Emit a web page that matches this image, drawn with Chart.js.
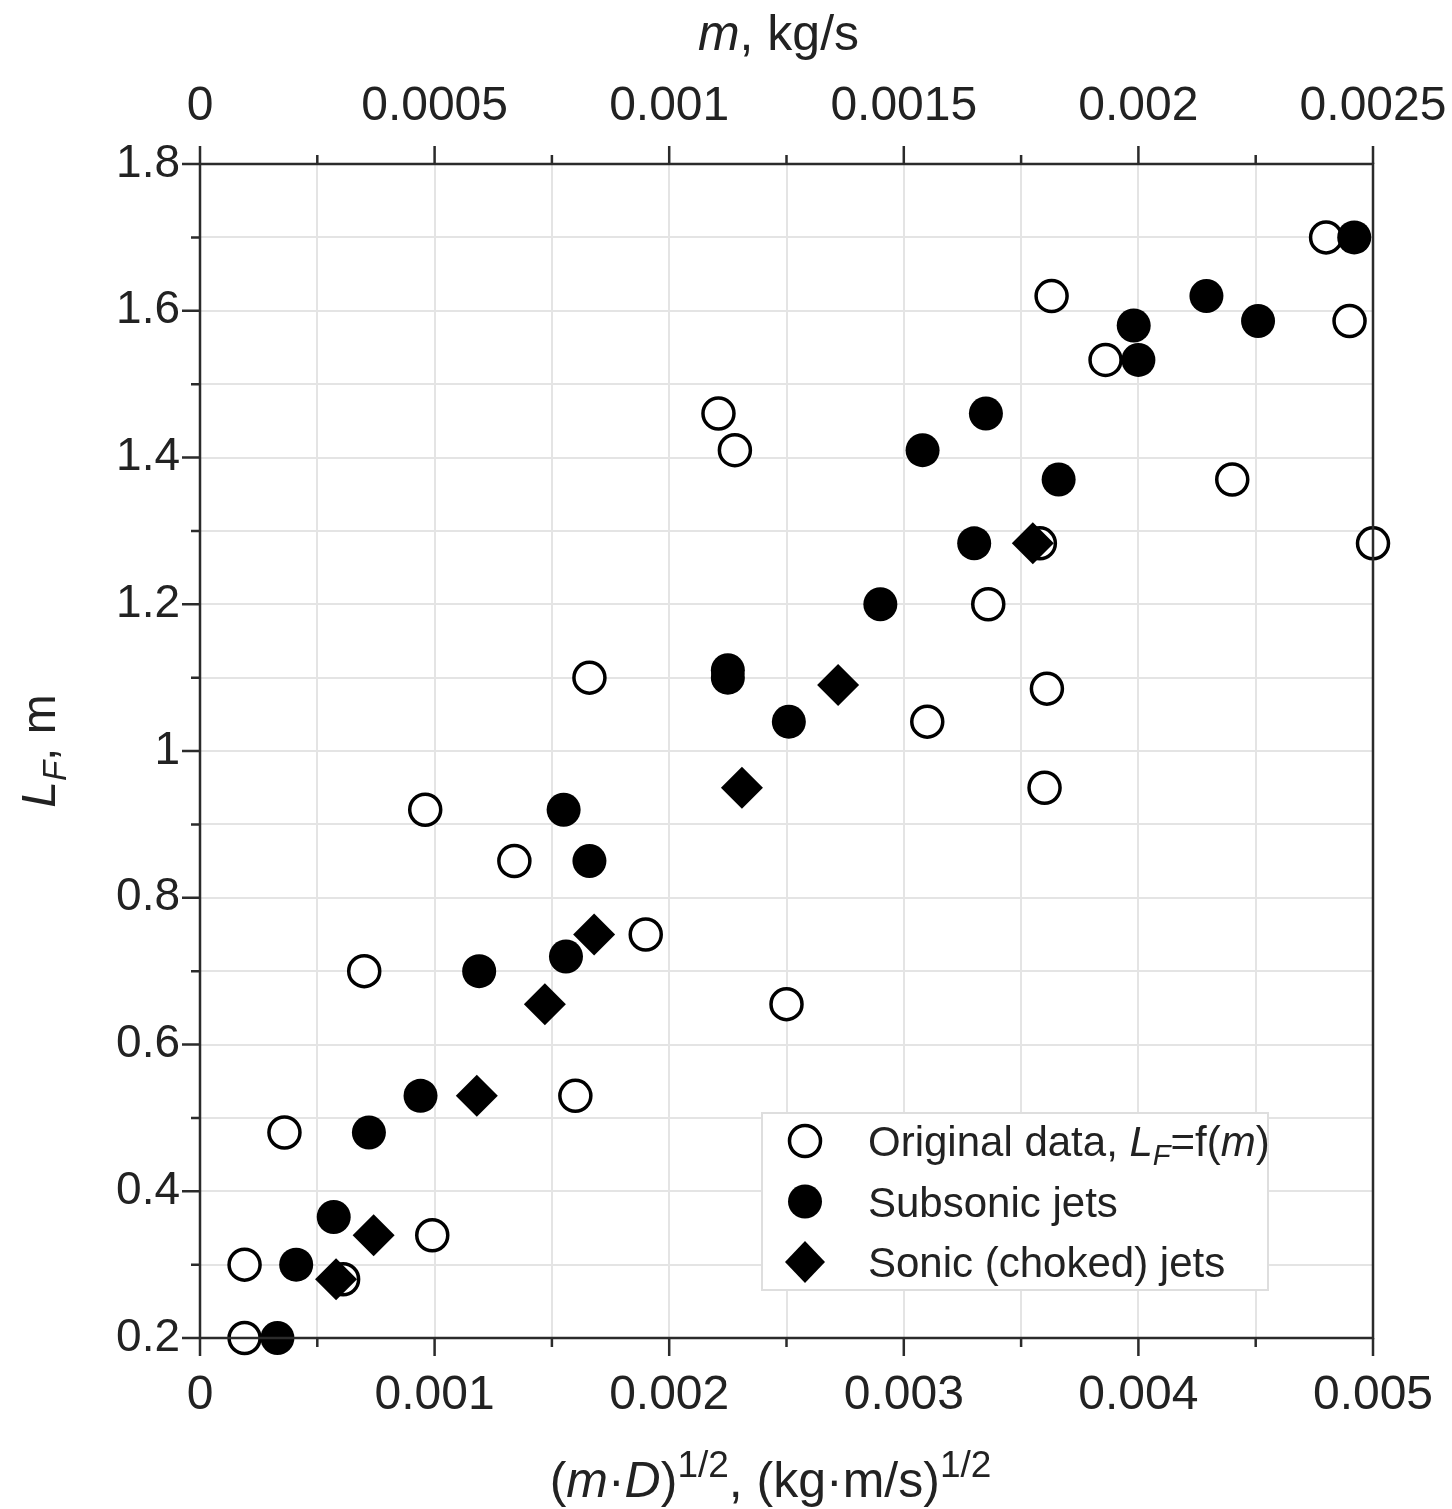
<!DOCTYPE html>
<html>
<head>
<meta charset="utf-8">
<script src="https://cdn.jsdelivr.net/npm/chart.js@4.4.0/dist/chart.umd.min.js"></script>
<style>
    html, body { margin: 0; padding: 0; background: #fff; }
</style>
</head>
<body>
<canvas id="flameChart" width="1452" height="1509"></canvas>
<script>
const FONT = '"Liberation Sans", Arial, Helvetica, sans-serif';

// Ticks: bottom axis (m·D)^1/2, top axis m, left axis L_F
const xTickVals = [0, 0.0005, 0.001, 0.0015, 0.002, 0.0025, 0.003, 0.0035, 0.004, 0.0045, 0.005];
const xTickLabels = ['0', '', '0.001', '', '0.002', '', '0.003', '', '0.004', '', '0.005'];
const mTickVals = [0, 0.00025, 0.0005, 0.00075, 0.001, 0.00125, 0.0015, 0.00175, 0.002, 0.00225, 0.0025];
const mTickLabels = ['0', '', '0.0005', '', '0.001', '', '0.0015', '', '0.002', '', '0.0025'];
const yTickVals = [0.2, 0.3, 0.4, 0.5, 0.6, 0.7, 0.8, 0.9, 1.0, 1.1, 1.2, 1.3, 1.4, 1.5, 1.6, 1.7, 1.8];
const yTickLabels = ['0.2', '', '0.4', '', '0.6', '', '0.8', '', '1', '', '1.2', '', '1.4', '', '1.6', '', '1.8'];

// Original data, L_F = f(m)
const origX = [0.00019, 0.00019, 0.00036, 0.00061, 0.00099, 0.0007, 0.00096, 0.00134, 0.0016, 0.00166,
               0.0019, 0.00221, 0.00228, 0.0025, 0.0031, 0.00336, 0.00358, 0.00361, 0.0036, 0.00363,
               0.00386, 0.0044, 0.0048, 0.0049, 0.005];
const origY = [0.2, 0.3, 0.48, 0.28, 0.34, 0.7, 0.92, 0.85, 0.53, 1.1,
               0.75, 1.46, 1.41, 0.655, 1.04, 1.2, 1.283, 1.085, 0.95, 1.62,
               1.533, 1.37, 1.70, 1.586, 1.283];

// Subsonic jets
const subX = [0.00033, 0.00041, 0.00057, 0.00072, 0.00094, 0.00119, 0.00156, 0.00155, 0.00166, 0.00225,
              0.00225, 0.00251, 0.0029, 0.00308, 0.00335, 0.0033, 0.00366, 0.00398, 0.004, 0.00429,
              0.00451, 0.00492];
const subY = [0.2, 0.3, 0.365, 0.48, 0.53, 0.7, 0.72, 0.92, 0.85, 1.11,
              1.10, 1.04, 1.2, 1.41, 1.46, 1.283, 1.37, 1.58, 1.533, 1.62,
              1.586, 1.70];

// Sonic (choked) jets
const sonX = [0.00058, 0.00074, 0.00118, 0.00147, 0.00168, 0.00231, 0.00272, 0.00355];
const sonY = [0.28, 0.34, 0.53, 0.655, 0.75, 0.95, 1.09, 1.283];

const toPoints = (xs, ys) => xs.map((x, i) => ({ x: x, y: ys[i] }));

// Draw text made of pieces: italic, subscript, superscript
function richFont(p, size) {
    const s = p.sub ? Math.round(size * 0.68) : (p.sup ? Math.round(size * 0.74) : size);
    return (p.i ? 'italic ' : '') + s + 'px ' + FONT;
}
function drawRich(ctx, parts, x, y, size, align) {
    let total = 0;
    const widths = parts.map(p => {
        ctx.font = richFont(p, size);
        const w = ctx.measureText(p.t).width;
        total += w;
        return w;
    });
    let cx = align === 'center' ? x - total / 2 : x;
    ctx.textAlign = 'left';
    ctx.textBaseline = 'alphabetic';
    parts.forEach((p, i) => {
        ctx.font = richFont(p, size);
        const dy = p.sub ? size * 0.22 : (p.sup ? -size * 0.4 : 0);
        ctx.fillText(p.t, cx, y + dy);
        cx += widths[i];
    });
}

const topTitle = [{ t: 'm', i: true }, { t: ', kg/s' }];
const bottomTitle = [{ t: '(' }, { t: 'm', i: true }, { t: '\u00B7' }, { t: 'D', i: true }, { t: ')' },
                     { t: '1/2', sup: true }, { t: ', (kg\u00B7m/s)' }, { t: '1/2', sup: true }];
const leftTitle = [{ t: 'L', i: true }, { t: 'F', i: true, sub: true }, { t: ', m' }];
const legendRows = [
    { style: 'open', parts: [{ t: 'Original data, ' }, { t: 'L', i: true }, { t: 'F', i: true, sub: true }, { t: '=f(' }, { t: 'm', i: true }, { t: ')' }] },
    { style: 'filled', parts: [{ t: 'Subsonic jets' }] },
    { style: 'diamond', parts: [{ t: 'Sonic (choked) jets' }] }
];

// Рамка, засечки, подписи осей и легенда
const decorPlugin = {
    id: 'decor',
    afterDraw(chart) {
        const ctx = chart.ctx;
        const ca = chart.chartArea;
        ctx.save();

        // frame
        ctx.strokeStyle = '#2b2b2b';
        ctx.lineWidth = 2.5;
        ctx.strokeRect(ca.left, ca.top, ca.right - ca.left, ca.bottom - ca.top);

        // tick marks, long for labelled ticks
        ctx.lineWidth = 2.5;
        ctx.beginPath();
        const xs = chart.scales.x, ms = chart.scales.x2, ys = chart.scales.y;
        xTickVals.forEach((v, i) => {
            const px = xs.getPixelForValue(v);
            ctx.moveTo(px, ca.bottom);
            ctx.lineTo(px, ca.bottom + (xTickLabels[i] ? 18 : 9));
        });
        mTickVals.forEach((v, i) => {
            const px = ms.getPixelForValue(v);
            ctx.moveTo(px, ca.top);
            ctx.lineTo(px, ca.top - (mTickLabels[i] ? 18 : 9));
        });
        yTickVals.forEach((v, i) => {
            const py = ys.getPixelForValue(v);
            ctx.moveTo(ca.left, py);
            ctx.lineTo(ca.left - (yTickLabels[i] ? 18 : 9), py);
        });
        ctx.stroke();

        // axis titles
        ctx.fillStyle = '#222';
        const cx = (ca.left + ca.right) / 2;
        drawRich(ctx, topTitle, cx - 8, 50, 50, 'center');
        drawRich(ctx, bottomTitle, cx - 16, 1497, 50, 'center');
        ctx.save();
        ctx.translate(55, (ca.top + ca.bottom) / 2);
        ctx.rotate(-Math.PI / 2);
        drawRich(ctx, leftTitle, 0, 0, 48, 'center');
        ctx.restore();

        // legend box inside plot area
        const lx = ca.right - 611, ly = ca.bottom - 225, lw = 506, lh = 177;
        ctx.fillStyle = '#fff';
        ctx.fillRect(lx, ly, lw, lh);
        ctx.strokeStyle = '#dedede';
        ctx.lineWidth = 2;
        ctx.strokeRect(lx, ly, lw, lh);
        legendRows.forEach((row, i) => {
            const my = ly + 28 + i * 60.5;
            const mx = lx + 43;
            ctx.beginPath();
            if (row.style === 'diamond') {
                ctx.moveTo(mx - 20, my);
                ctx.lineTo(mx, my - 21);
                ctx.lineTo(mx + 20, my);
                ctx.lineTo(mx, my + 21);
                ctx.closePath();
                ctx.fillStyle = '#000';
                ctx.fill();
            } else if (row.style === 'filled') {
                ctx.arc(mx, my, 17, 0, Math.PI * 2);
                ctx.fillStyle = '#000';
                ctx.fill();
            } else {
                ctx.arc(mx, my, 15.5, 0, Math.PI * 2);
                ctx.fillStyle = '#fff';
                ctx.fill();
                ctx.strokeStyle = '#000';
                ctx.lineWidth = 3.5;
                ctx.stroke();
            }
            ctx.fillStyle = '#222';
            drawRich(ctx, row.parts, lx + 106, my + 15, 42, 'left');
        });
        ctx.restore();
    }
};

// horizontal axes must not reserve room for half of the end labels
function noSidePadding(scale) {
    scale.paddingLeft = 0;
    scale.paddingRight = 0;
}

const ctx = document.getElementById('flameChart').getContext('2d');

const flameChart = new Chart(ctx, {
    type: 'scatter',
    data: {
        datasets: [
            {
                label: 'Sonic (choked) jets',
                data: toPoints(sonX, sonY),
                pointStyle: 'rectRot',
                pointRadius: 21,
                backgroundColor: '#000',
                borderColor: '#000',
                borderWidth: 0,
                order: 1,
                clip: false
            },
            {
                label: 'Subsonic jets',
                data: toPoints(subX, subY),
                pointStyle: 'circle',
                pointRadius: 17,
                backgroundColor: '#000',
                borderColor: '#000',
                borderWidth: 0,
                order: 2,
                clip: false
            },
            {
                label: 'Original data, LF=f(m)',
                data: toPoints(origX, origY),
                pointStyle: 'circle',
                pointRadius: 15.5,
                backgroundColor: '#fff',
                borderColor: '#000',
                borderWidth: 3.5,
                order: 3,
                clip: false
            }
        ]
    },
    options: {
        responsive: false,
        devicePixelRatio: 1,
        animation: false,
        layout: { padding: { right: 79 } },
        plugins: {
            legend: { display: false },
            tooltip: { enabled: false }
        },
        scales: {
            x: {
                type: 'linear',
                position: 'bottom',
                min: 0,
                max: 0.005,
                afterFit(scale) { scale.height = 171; noSidePadding(scale); },
                afterBuildTicks(scale) { scale.ticks = xTickVals.map(v => ({ value: v })); },
                ticks: {
                    autoSkip: false,
                    maxRotation: 0,
                    padding: 29,
                    color: '#222',
                    font: { size: 48, family: FONT },
                    callback: (v, i) => xTickLabels[i]
                },
                grid: { color: '#e4e4e4', lineWidth: 2, drawTicks: false },
                border: { display: false }
            },
            x2: {
                type: 'linear',
                position: 'top',
                min: 0,
                max: 0.0025,
                afterFit(scale) { scale.height = 164; noSidePadding(scale); },
                afterBuildTicks(scale) { scale.ticks = mTickVals.map(v => ({ value: v })); },
                ticks: {
                    autoSkip: false,
                    maxRotation: 0,
                    padding: 28,
                    color: '#222',
                    font: { size: 48, family: FONT },
                    callback: (v, i) => mTickLabels[i]
                },
                grid: { display: false, drawTicks: false },
                border: { display: false }
            },
            y: {
                type: 'linear',
                position: 'left',
                min: 0.2,
                max: 1.8,
                afterFit(scale) { scale.width = 200; scale.paddingTop = 0; scale.paddingBottom = 0; },
                afterBuildTicks(scale) { scale.ticks = yTickVals.map(v => ({ value: v })); },
                ticks: {
                    autoSkip: false,
                    padding: 20,
                    color: '#222',
                    font: { size: 46, family: FONT },
                    callback: (v, i) => yTickLabels[i]
                },
                grid: { color: '#e4e4e4', lineWidth: 2, drawTicks: false },
                border: { display: false }
            }
        }
    },
    plugins: [decorPlugin]
});
</script>
</body>
</html>
